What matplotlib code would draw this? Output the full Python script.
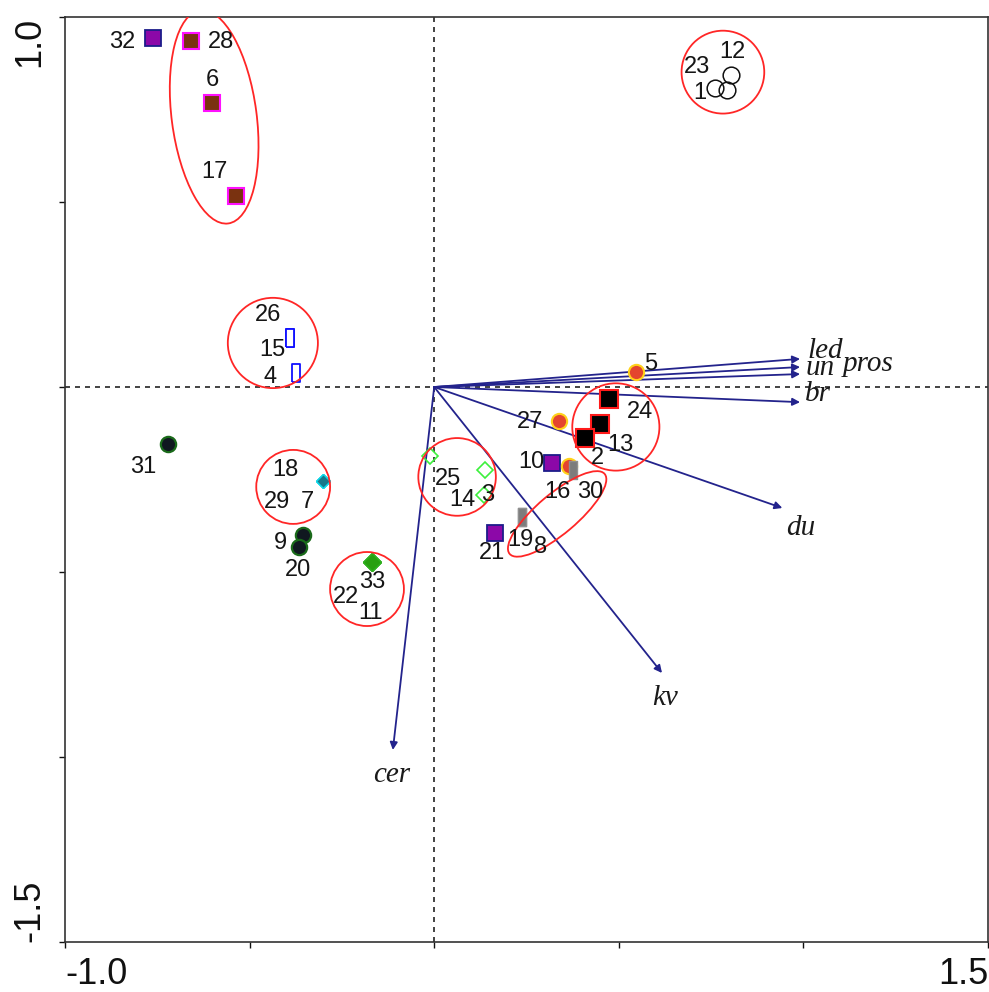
import numpy as np
import matplotlib
matplotlib.use('Agg')
import matplotlib.pyplot as plt
from matplotlib.patches import Ellipse

# sample scores, one set of lists per symbol group
purple_lab = ['32', '10', '21']
purple_x = [-0.762, 0.319, 0.165]
purple_y = [0.943, -0.205, -0.395]

brown_lab = ['28', '6', '17']
brown_x = [-0.659, -0.602, -0.537]
brown_y = [0.935, 0.768, 0.516]

black_lab = ['24', '13', '2']
black_x = [0.473, 0.449, 0.408]
black_y = [-0.032, -0.100, -0.138]

red_lab = ['5', '27', '16']
red_x = [0.547, 0.338, 0.365]
red_y = [0.041, -0.092, -0.214]

grey_lab = ['30', '19', '8']
grey_x = [0.376, 0.238, 0.238]
grey_y = [-0.224, -0.351, -0.351]

blue_lab = ['26', '15', '4']
blue_x = [-0.391, -0.391, -0.374]
blue_y = [0.132, 0.132, 0.038]

gdiam_lab = ['25', '3', '14']
gdiam_x = [-0.011, 0.138, 0.135]
gdiam_y = [-0.186, -0.224, -0.292]

green_lab = ['33', '22', '11']
green_x = [-0.168, -0.168, -0.168]
green_y = [-0.473, -0.473, -0.473]

teal_lab = ['7', '18', '29']
teal_x = [-0.301, -0.301, -0.301]
teal_y = [-0.254, -0.254, -0.254]

dark_lab = ['31', '9', '20']
dark_x = [-0.721, -0.355, -0.366]
dark_y = [-0.154, -0.400, -0.432]

open_lab = ['12', '23', '1']
open_x = [0.804, 0.793, 0.761]
open_y = [0.843, 0.803, 0.808]

# environmental vectors
env_names = ['led', 'un', 'pros', 'br', 'du', 'kv', 'cer']
env_x = [0.991, 0.991, 0.991, 0.991, 0.943, 0.617, -0.112]
env_y = [0.076, 0.054, 0.035, -0.041, -0.327, -0.773, -0.981]

# hand-drawn groupings
ell_x = [-0.596, 0.782, -0.437, -0.382, -0.182, 0.062, 0.333, 0.492]
ell_y = [0.730, 0.851, 0.119, -0.270, -0.546, -0.243, -0.343, -0.108]
ell_w = [0.230, 0.224, 0.244, 0.200, 0.200, 0.210, 0.336, 0.236]
ell_h = [0.581, 0.224, 0.244, 0.200, 0.200, 0.210, 0.108, 0.236]
ell_a = [7.5, 0, 0, 0, 0, 0, 40, 0]

# label offsets in pixels (right, down) from the point
lab_off = {
    '32': (-31, 4), '28': (30, 1), '6': (0, -23), '17': (-22, -24),
    '12': (1, -23), '23': (-30, -23), '1': (-15, 5),
    '26': (-22, -23), '15': (-17, 12), '4': (-26, 4),
    '31': (-25, 23), '7': (-16, 21), '18': (-38, -11), '29': (-46, 21),
    '9': (-23, 8), '20': (-1, 23),
    '33': (0, 20), '22': (-26, 35), '11': (-2, 51),
    '25': (18, 23), '3': (2, 25), '14': (-22, 5),
    '10': (-21, -1), '16': (-12, 26), '30': (17, 22),
    '19': (-2, 23), '8': (18, 30), '21': (-3, 20),
    '27': (-29, 1), '5': (15, -8), '24': (31, 13), '13': (20, 21), '2': (13, 20),
}
# vector label offsets (right, down) from the arrow tip, and alignment
env_off = {
    'led': (7, -1, 'left'), 'un': (5, 8, 'left'), 'pros': (43, -3, 'left'),
    'br': (5, -1, 'left'), 'du': (18, 27, 'center'), 'kv': (3, 32, 'center'),
    'cer': (-1, 32, 'center'),
}

navy = '#23238c'
rect = [(-0.45, -1), (0.45, -1), (0.45, 1), (-0.45, 1), (-0.45, -1)]

fig = plt.figure(figsize=(9.89, 9.92), dpi=100)
ax = fig.add_axes([65 / 989, 50 / 992, 923 / 989, 925 / 992])

ax.axhline(0, color='#222222', lw=1.2, ls=(0, (3, 3)), zorder=1)
ax.axvline(0, color='#222222', lw=1.2, ls=(0, (3, 3)), zorder=1)

for name, ex, ey in zip(env_names, env_x, env_y):
    ax.annotate('', xy=(ex, ey), xytext=(0, 0),
                arrowprops=dict(arrowstyle='-|>', color=navy, lw=1.3,
                                mutation_scale=11, shrinkA=0, shrinkB=0),
                zorder=2)
    dx, dy, ha = env_off[name]
    ax.annotate(name, xy=(ex, ey), xytext=(dx, -dy), textcoords='offset pixels',
                ha=ha, va='baseline', fontsize=21, style='italic',
                family='Liberation Serif', color='#1a1a1a', zorder=5)

groups = [
    (purple_lab, purple_x, purple_y, dict(marker='s', ms=12, mfc='#8c08a8', mec='#1c1c8a', mew=1.3)),
    (brown_lab, brown_x, brown_y, dict(marker='s', ms=11.5, mfc='#7a3210', mec='#ff10ff', mew=1.5)),
    (black_lab, black_x, black_y, dict(marker='s', ms=12.5, mfc='#000000', mec='#ff1a1a', mew=1.5)),
    (red_lab, red_x, red_y, dict(marker='o', ms=11, mfc='#e4452e', mec='#ffd21a', mew=1.5)),
    (grey_lab, grey_x, grey_y, dict(marker=rect, ms=13, mfc='#7c7c7c', mec='#909090', mew=1)),
    (blue_lab, blue_x, blue_y, dict(marker=rect, ms=13, mfc='white', mec='#1010ff', mew=1.3)),
    (gdiam_lab, gdiam_x, gdiam_y, dict(marker='D', ms=8.5, mfc='none', mec='#3cf03c', mew=1.2)),
    (green_lab, green_x, green_y, dict(marker='D', ms=9, mfc='#28a010', mec='#30b020', mew=1)),
    (teal_lab, teal_x, teal_y, dict(marker='D', ms=7.5, mfc='#16788a', mec='#10d8e8', mew=1)),
    (dark_lab, dark_x, dark_y, dict(marker='o', ms=11, mfc='#101820', mec='#1a6a1a', mew=1.6)),
    (open_lab, open_x, open_y, dict(marker='o', ms=12, mfc='none', mec='#111111', mew=1.1)),
]

for labs, xs, ys, style in groups:
    ax.plot(xs, ys, ls='none', zorder=3, **style)
    for lab, px, py in zip(labs, xs, ys):
        dx, dy = lab_off[lab]
        ax.annotate(lab, xy=(px, py), xytext=(dx, -dy), textcoords='offset pixels',
                    ha='center', va='center', fontsize=17,
                    family='Liberation Sans', color='#151515', zorder=5)

for cx, cy, w, h, a in zip(ell_x, ell_y, ell_w, ell_h, ell_a):
    ax.add_patch(Ellipse((cx, cy), w, h, angle=a, fill=False,
                         ec='#ff2626', lw=1.3, zorder=4))

ax.set_xlim(-1.0, 1.5)
ax.set_ylim(-1.5, 1.0)
ax.set_xticks(np.arange(-1.0, 1.51, 0.5))
ax.set_xticklabels(['-1.0', '', '', '', '', '1.5'])
ax.set_yticks(np.arange(-1.5, 1.01, 0.5))
ax.set_yticklabels(['-1.5', '', '', '', '', '1.0'], rotation=90)
xl = ax.get_xticklabels()
xl[0].set_ha('left')
xl[-1].set_ha('right')
yl = ax.get_yticklabels()
yl[0].set_va('bottom')
yl[-1].set_va('top')
ax.tick_params(direction='out', length=4.5, width=1, labelsize=26,
               labelfontfamily='Liberation Sans', colors='#111111')
ax.tick_params(axis='x', pad=6)
ax.tick_params(axis='y', pad=8)
for sp in ax.spines.values():
    sp.set_linewidth(1.2)
    sp.set_color('#333333')

fig.savefig('out.png', dpi=100)
